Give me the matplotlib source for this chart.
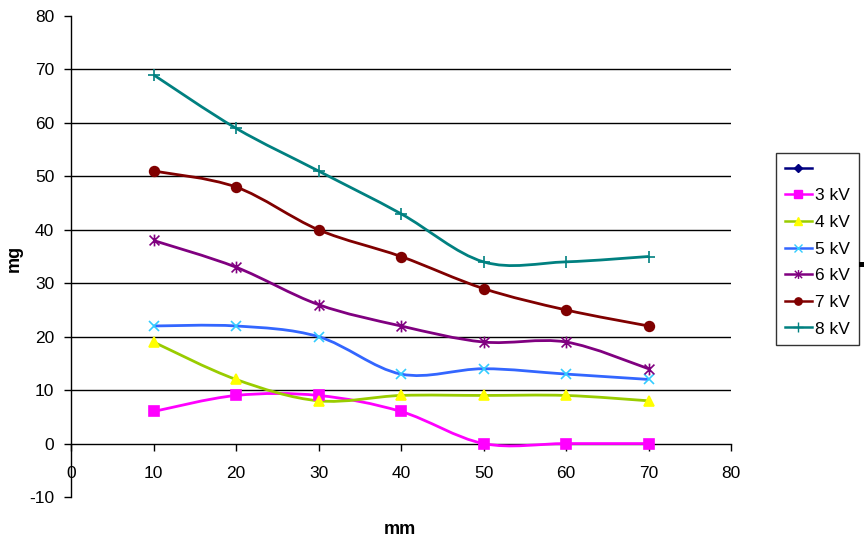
import numpy as np
import matplotlib
matplotlib.use("Agg")
import matplotlib.pyplot as plt
from matplotlib.path import Path
from matplotlib.patches import PathPatch, Rectangle
from matplotlib.lines import Line2D

plt.rcParams['font.family'] = ['Liberation Sans', 'DejaVu Sans']
plt.rcParams['axes.unicode_minus'] = False

# ---- data ----
x_mm = [10, 20, 30, 40, 50, 60, 70]
series_labels = ["", "3 kV", "4 kV", "5 kV", "6 kV", "7 kV", "8 kV"]
s_blank = []
s_3kv = [6, 9, 9, 6, 0, 0, 0]
s_4kv = [19, 12, 8, 9, 9, 9, 8]
s_5kv = [22, 22, 20, 13, 14, 13, 12]
s_6kv = [38, 33, 26, 22, 19, 19, 14]
s_7kv = [51, 48, 40, 35, 29, 25, 22]
s_8kv = [69, 59, 51, 43, 34, 34, 35]
x_ticks = [0, 10, 20, 30, 40, 50, 60, 70, 80]
y_ticks = [-10, 0, 10, 20, 30, 40, 50, 60, 70, 80]

# asterisk marker (x plus vertical bar)
star_verts = [(-1, -1), (1, 1), (-1, 1), (1, -1), (0, -1.2), (0, 1.2)]
star_codes = [Path.MOVETO, Path.LINETO, Path.MOVETO, Path.LINETO, Path.MOVETO, Path.LINETO]
star_marker = Path(star_verts, star_codes)

styles = [
    dict(line="#000080", mfc="#000080", mec="#000080", marker="D", ms=6),
    dict(line="#FF00FF", mfc="#FF00FF", mec="#FF00FF", marker="s", ms=7),
    dict(line="#99CC00", mfc="#FFFF00", mec="#FFFF00", marker="^", ms=7.5),
    dict(line="#3366FF", mfc="#33CCFF", mec="#33CCFF", marker="x", ms=7.5),
    dict(line="#800080", mfc="#800080", mec="#800080", marker=star_marker, ms=8.5),
    dict(line="#800000", mfc="#800000", mec="#800000", marker="o", ms=7),
    dict(line="#008080", mfc="#008080", mec="#008080", marker="+", ms=9),
]
data = [s_blank, s_3kv, s_4kv, s_5kv, s_6kv, s_7kv, s_8kv]


def smooth_path(xs, ys):
    P = np.column_stack([xs, ys]).astype(float)
    n = len(P)
    verts = [P[0]]
    codes = [Path.MOVETO]
    for i in range(n - 1):
        p_prev = P[i - 1] if i > 0 else P[i]
        p_next2 = P[i + 2] if i + 2 < n else P[i + 1]
        c1 = P[i] + (P[i + 1] - p_prev) / 6.0
        c2 = P[i + 1] - (p_next2 - P[i]) / 6.0
        verts += [c1, c2, P[i + 1]]
        codes += [Path.CURVE4] * 3
    return Path(verts, codes)


fig = plt.figure(figsize=(8.64, 5.44), dpi=100)
ax = fig.add_axes([71 / 864, 1 - 497 / 544, 660 / 864, 481 / 544])
ax.set_xlim(0, 80)
ax.set_ylim(-10, 80)

for yv in y_ticks:
    if 0 < yv < 80:
        ax.axhline(yv, color="black", lw=1.0, zorder=1)

handles = []
for vals, st, lab in zip(data, styles, series_labels):
    if len(vals) > 0:
        ax.add_patch(PathPatch(smooth_path(x_mm, vals), fill=False,
                               edgecolor=st["line"], lw=2.0, zorder=3))
        ax.plot(x_mm, vals, linestyle="none", marker=st["marker"],
                markersize=st["ms"], markerfacecolor=st["mfc"],
                markeredgecolor=st["mec"], markeredgewidth=1.2, zorder=4)
    handles.append(Line2D([], [], color=st["line"], lw=1.8, marker=st["marker"],
                          markersize=st["ms"] * 0.75, markerfacecolor=st["mfc"],
                          markeredgecolor=st["mec"], markeredgewidth=1.0, label=lab))

ax.spines["top"].set_visible(False)
ax.spines["right"].set_visible(False)
ax.spines["bottom"].set_position(("data", 0))
ax.spines["bottom"].set_zorder(2)
for sp in ["left", "bottom"]:
    ax.spines[sp].set_linewidth(1.0)

ax.set_xticks(x_ticks)
ax.set_yticks(y_ticks)
ax.tick_params(axis="x", direction="out", length=5, width=1, pad=11, labelsize=12.5)
ax.tick_params(axis="y", direction="out", length=5, width=1, pad=7, labelsize=12.5)

ax.set_xlabel("mm", fontsize=13, fontweight="bold")
ax.xaxis.set_label_coords((400 - 71) / 660, (497 - 530) / 481)
ax.xaxis.label.set_va("center")
ax.set_ylabel("mg", fontsize=13, fontweight="bold")
ax.yaxis.set_label_coords((14 - 71) / 660, (497 - 258) / 481)
ax.yaxis.label.set_va("center")

leg = fig.legend(handles=handles, loc="upper left",
                 bbox_to_anchor=(776 / 864, 1 - 153 / 544),
                 frameon=True, fancybox=False, fontsize=12.5,
                 handlelength=1.55, handletextpad=0.2, labelspacing=0.66,
                 borderpad=0.5, borderaxespad=0)
leg.get_frame().set_edgecolor("black")
leg.get_frame().set_linewidth(1.0)

fig.patches.append(Rectangle((859 / 864, 1 - 267 / 544), 5 / 864, 5 / 544,
                             transform=fig.transFigure, facecolor="black",
                             edgecolor="none", zorder=10))

fig.savefig("out.png", dpi=100)
